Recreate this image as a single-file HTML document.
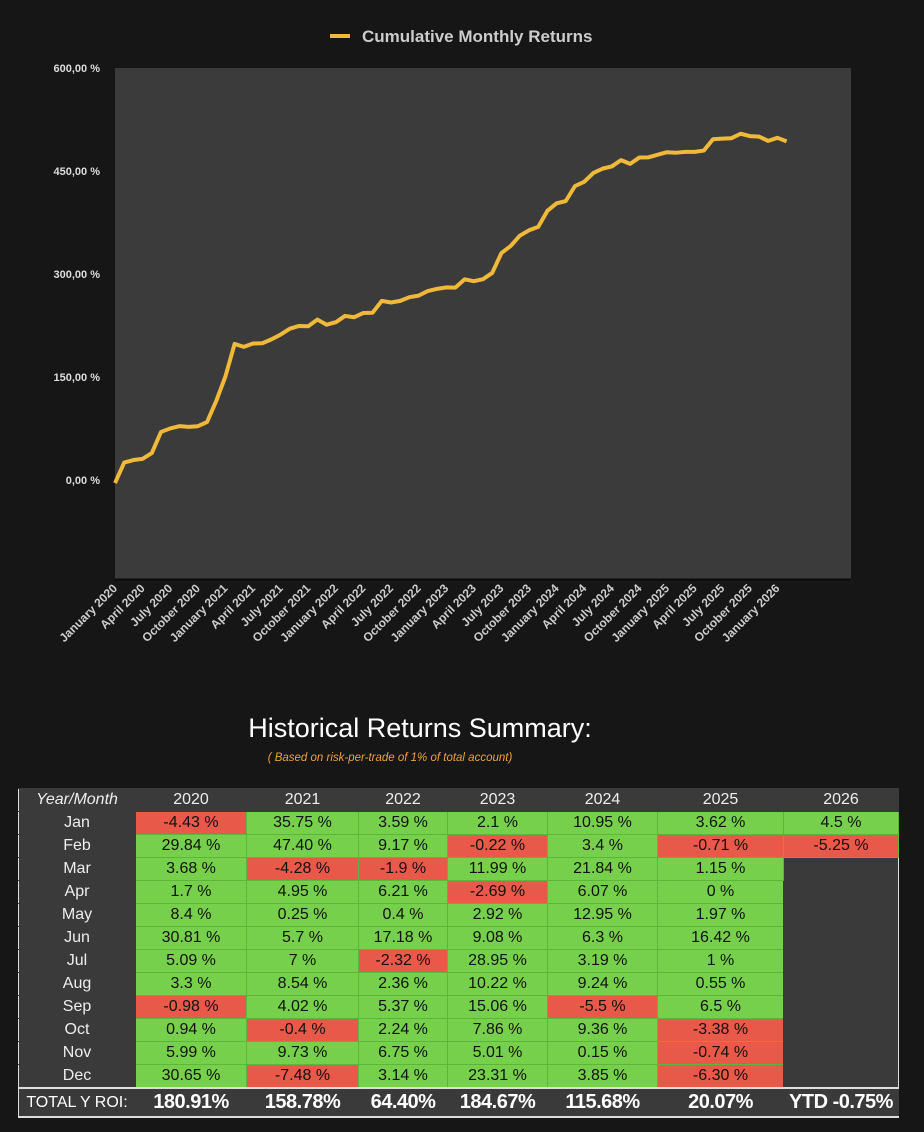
<!DOCTYPE html>
<html><head><meta charset="utf-8"><style>
body{margin:0;background:#161616;width:924px;height:1132px;overflow:hidden;font-family:"Liberation Sans",sans-serif;position:relative}
#chart{position:absolute;left:0;top:0}
#ttl{position:absolute;left:0;width:840px;top:713px;text-align:center;color:#fff;font-size:27px}
#sub{position:absolute;left:0;width:780px;top:752px;text-align:center;color:#f0a040;font-size:11.5px;font-style:italic}
table{position:absolute;left:18px;top:788px;border-collapse:collapse;font-size:16px;table-layout:fixed}
td{height:22px;padding:0;text-align:center;border:1px solid #5cb63a;color:#111;line-height:22px;white-space:nowrap;overflow:hidden}
td.h{background:#3a3a3a;color:#eee;border:1px solid #3a3a3a;border-left:1px solid #ddd}
td.m{background:#3a3a3a;color:#eee;border:1px solid #3a3a3a;border-left:1px solid #ddd}
td.g{background:#76d04b}td.r{background:#e8594a}
td.e{background:#3a3a3a;border:1px solid #3a3a3a;border-right:1px solid #ddd}
tr.t td{background:#3a3a3a;color:#fff;font-weight:bold;font-size:20px;height:27px;line-height:27px;border:1px solid #3a3a3a;border-top:2px solid #ddd;border-bottom:2px solid #ddd;letter-spacing:-0.5px}
</style></head><body>
<svg id="chart" width="924" height="700"></svg>
<div id="ttl">Historical Returns Summary:</div>
<div id="sub">( Based on risk-per-trade of 1% of total account)</div>
<table id="tbl"></table>
<script>
const years=["2020","2021","2022","2023","2024","2025","2026"];
const months=["Jan","Feb","Mar","Apr","May","Jun","Jul","Aug","Sep","Oct","Nov","Dec"];
const r2020=[-4.43,29.84,3.68,1.7,8.4,30.81,5.09,3.3,-0.98,0.94,5.99,30.65];
const r2021=[35.75,47.40,-4.28,4.95,0.25,5.7,7,8.54,4.02,-0.4,9.73,-7.48];
const r2022=[3.59,9.17,-1.9,6.21,0.4,17.18,-2.32,2.36,5.37,2.24,6.75,3.14];
const r2023=[2.1,-0.22,11.99,-2.69,2.92,9.08,28.95,10.22,15.06,7.86,5.01,23.31];
const r2024=[10.95,3.4,21.84,6.07,12.95,6.3,3.19,9.24,-5.5,9.36,0.15,3.85];
const r2025=[3.62,-0.71,1.15,0,1.97,16.42,1,0.55,6.5,-3.38,-0.74,-6.30];
const r2026=[4.5,-5.25];
const labels2026=["4.5 %","-5.25 %"];
const totals=["180.91%","158.78%","64.40%","184.67%","115.68%","20.07%","YTD -0.75%"];
const yTicks=[0,150,300,450,600];
const all=[r2020,r2021,r2022,r2023,r2024,r2025,r2026];
const strs={2021:{1:"47.40 %"},2025:{11:"-6.30 %"}};
const cum=[];let s=0;all.forEach(a=>a.forEach(v=>{s+=v;cum.push(s);}));
const NS="http://www.w3.org/2000/svg";const svg=document.getElementById('chart');
function mk(t,a,p){const e=document.createElementNS(NS,t);for(const k in a)e.setAttribute(k,a[k]);(p||svg).appendChild(e);return e;}
const X=i=>115+i*9.2, Y=v=>480-v*103/150;
const bg=mk('rect',{x:115,y:68,width:736,height:511,fill:'#3b3b3b'});


mk('line',{x1:115,y1:579.5,x2:851,y2:579.5,stroke:'#0a0a0a','stroke-width':2});
yTicks.forEach(v=>{const t=mk('text',{x:100,y:Y(v)+4,'text-anchor':'end',fill:'#ddd','font-size':11,'font-weight':'bold'});t.textContent=v.toFixed(0)+',00 %';

});
const mnames=["January","April","July","October"];
for(let i=0;i<cum.length;i+=3){const yr=2020+Math.floor(i/12);const t=mk('text',{transform:`translate(${X(i)+3},589) rotate(-45)`,'text-anchor':'end',fill:'#ccc','font-size':12,'font-weight':'bold'});t.textContent=mnames[(i%12)/3]+' '+yr;

}
const line=mk('polyline',{points:cum.map((v,i)=>X(i)+','+Y(v)).join(' '),fill:'none',stroke:'#f0b93a','stroke-width':4,'stroke-linejoin':'round'});


mk('line',{x1:330,y1:36,x2:350,y2:36,stroke:'#f0b93a','stroke-width':4});
const lt=mk('text',{x:362,y:42,fill:'#ccc','font-size':17,'font-weight':'bold'});lt.textContent='Cumulative Monthly Returns';


const widths=[117,111,112,89,100,110,126,115];
const tb=document.getElementById('tbl');let h='<colgroup>'+widths.map(w=>`<col style="width:${w}px">`).join('')+'</colgroup>';
h+='<tr><td class="h" style="font-style:italic">Year/Month</td>'+years.map(y=>`<td class="h">${y}</td>`).join('')+'</tr>';
months.forEach((m,mi)=>{h+=`<tr><td class="m">${m}</td>`;all.forEach((a,yi)=>{if(mi<a.length){const v=a[mi];const yr=2020+yi;let txt=(strs[yr]&&strs[yr][mi])||(yr==2026?labels2026[mi]:v+' %');h+=`<td class="${v<0?'r':'g'}">${txt}</td>`;}else if(mi==2&&yi==6){h+='<td class="e" rowspan="10"></td>';}});h+='</tr>';});
h+='<tr class="t"><td style="font-weight:normal;font-size:16px;border-left:1px solid #ddd;letter-spacing:0">TOTAL Y ROI:</td>'+totals.map(t=>`<td>${t}</td>`).join('')+'</tr>';
tb.innerHTML=h;
tb.querySelectorAll('td').forEach(td=>{});
</script>
</body></html>
